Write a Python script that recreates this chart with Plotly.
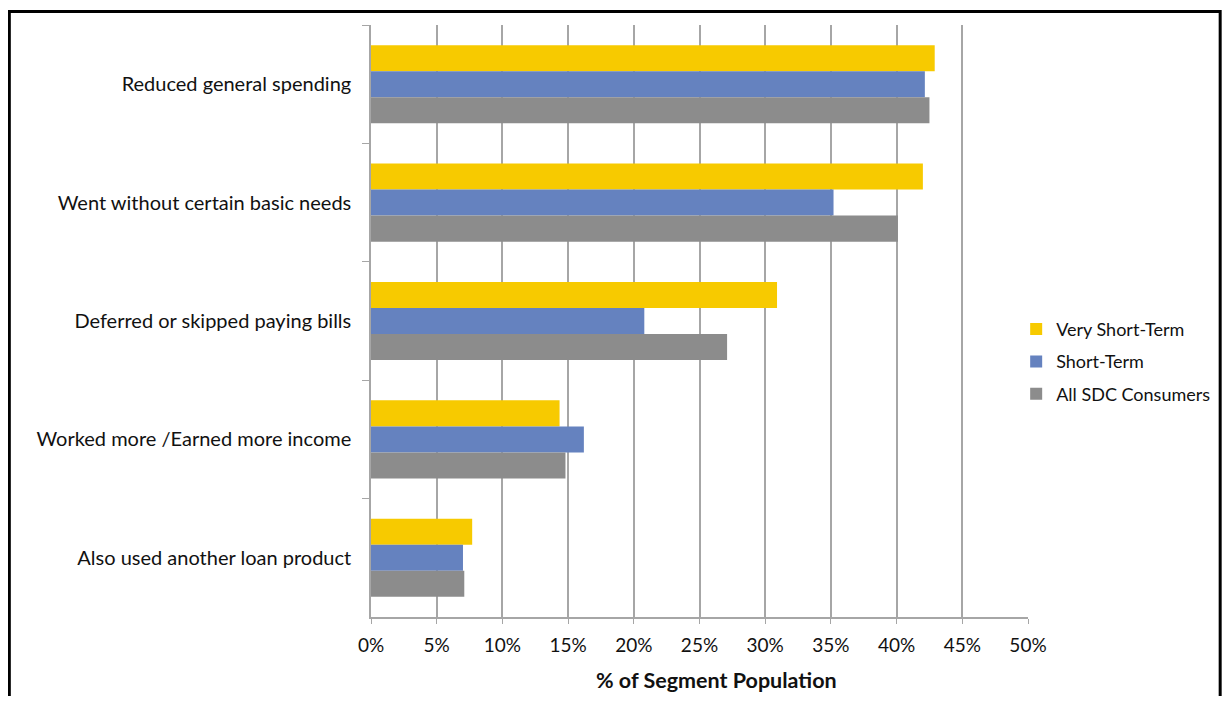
import plotly.graph_objects as go

categories = ["Reduced general spending", "Went without certain basic needs",
              "Deferred or skipped paying bills", "Worked more /Earned more income",
              "Also used another loan product"]
very_short_term = [42.9, 42.0, 30.9, 14.35, 7.7]
short_term = [42.15, 35.2, 20.8, 16.2, 7.0]
all_sdc = [42.5, 40.1, 27.1, 14.8, 7.1]
series_names = ["Very Short-Term", "Short-Term", "All SDC Consumers"]
colors = ["#F7CA00", "#6582BF", "#8C8C8C"]
x_ticks = list(range(0, 55, 5))
x_title = "<b>% of Segment Population</b>"

fig = go.Figure()
for name, vals, c in zip(series_names, [very_short_term, short_term, all_sdc], colors):
    fig.add_trace(go.Bar(y=categories, x=vals, name=name, orientation="h",
                         legendgroup=name,
                         marker=dict(color=c, line=dict(width=0))))

font_family = "Lato, Open Sans, Liberation Sans, sans-serif"
fig.update_layout(
    width=1214, height=688, autosize=False,
    margin=dict(l=363, r=193.5, t=17, b=79, autoexpand=False),
    paper_bgcolor="white", plot_bgcolor="white",
    barmode="group", bargap=0.34, bargroupgap=0,
    font=dict(family=font_family, size=20, color="#111111"),
    showlegend=True,
    legend=dict(x=0.982, xanchor="left", y=0.431, yanchor="middle",
                font=dict(size=18), traceorder="grouped", tracegroupgap=6,
                bgcolor="rgba(0,0,0,0)", itemsizing="constant"),
    xaxis=dict(range=[0, 50], tickvals=x_ticks, ticktext=[f"{v}%" for v in x_ticks],
               showgrid=True, gridcolor="#A6A6A6", gridwidth=1.5,
               showline=True, linecolor="#A6A6A6", linewidth=1.5,
               ticks="outside", ticklen=5, tickcolor="#A6A6A6",
               zeroline=False, ticklabelstandoff=5,
               tickfont=dict(size=19)),
    yaxis=dict(autorange="reversed", categoryorder="array", categoryarray=categories,
               showline=True, linecolor="#A6A6A6", linewidth=1.5,
               ticks="outside", ticklen=7, tickcolor="#A6A6A6", tickson="boundaries",
               showgrid=False, tickfont=dict(size=20), ticklabelstandoff=14),
)

fig.add_annotation(text=x_title, xref="paper", yref="paper", x=0.526, y=-0.107,
                   xanchor="center", yanchor="middle", showarrow=False,
                   font=dict(size=21.5, color="#111111"))

fig.add_shape(type="rect", xref="paper", yref="paper",
              x0=-0.5505, x1=1.2925, y0=-0.25, y1=1.0228,
              line=dict(color="black", width=3), fillcolor="rgba(0,0,0,0)", layer="above")

fig.write_html("out.html")
